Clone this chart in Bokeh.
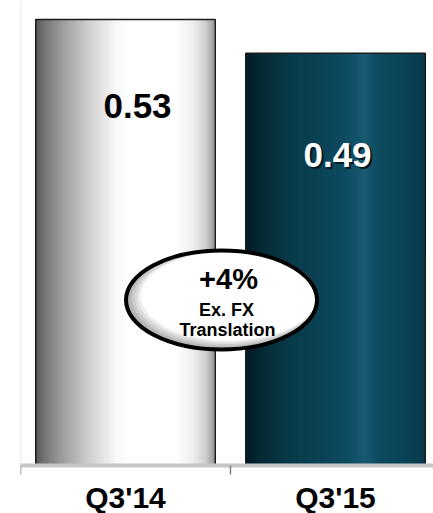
from bokeh.plotting import figure
from bokeh.models import ColumnDataSource, FixedTicker, Range1d
from bokeh.core.properties import value
from bokeh.embed import file_html
from bokeh.resources import INLINE

# ---- data ----
categories = ["Q3'14", "Q3'15"]
eps = [0.53, 0.49]
eps_labels = ["0.53", "0.49"]
callout_lines = ["+4%", "Ex. FX", "Translation"]

FONT = value("Liberation Sans")
W, H = 433, 513
PX_X = 1 / 210            # data units per pixel, horizontal
PX_Y = 0.53 / 446         # data units per pixel, vertical
Y_END = 465 * PX_Y
Y_START = -48 * PX_Y      # room below the baseline for the category labels
BAR_W = 0.855
centers = [i + 0.5 for i in range(len(categories))]

# horizontal colour ramps giving each bar its cylindrical shading
ramps = [
    [(0.00, "#555555"), (0.05, "#747474"), (0.15, "#9c9c9c"), (0.30, "#cfcfcf"),
     (0.45, "#f8f8f8"), (0.52, "#ffffff"), (0.78, "#ffffff"), (0.88, "#eeeeee"),
     (0.95, "#cdcdcd"), (1.00, "#979797")],
    [(0.00, "#031a22"), (0.10, "#062b37"), (0.25, "#093a4a"), (0.45, "#0b4457"),
     (0.58, "#0f4d63"), (0.66, "#195b73"), (0.74, "#0f4b60"), (0.90, "#0a4356"),
     (1.00, "#083a4b")],
]


def hex2rgb(h):
    h = h.lstrip("#")
    return [int(h[i:i + 2], 16) for i in (0, 2, 4)]


def ramp_color(stops, t):
    for (t0, c0), (t1, c1) in zip(stops[:-1], stops[1:]):
        if t0 <= t <= t1:
            f = 0 if t1 == t0 else (t - t0) / (t1 - t0)
            a, b = hex2rgb(c0), hex2rgb(c1)
            return "#%02x%02x%02x" % tuple(round(a[k] + (b[k] - a[k]) * f) for k in range(3))
    return stops[-1][1]


N = 120
sx, stop_, sw, sc = [], [], [], []
for c, v, stops in zip(centers, eps, ramps):
    step = BAR_W / N
    for i in range(N):
        t = (i + 0.5) / N
        sx.append(c - BAR_W / 2 + (i + 0.5) * step)
        stop_.append(v)
        sw.append(step * 1.6)
        sc.append(ramp_color(stops, t))
strips = ColumnDataSource(dict(x=sx, top=stop_, w=sw, color=sc))
bars = ColumnDataSource(dict(x=centers, top=eps))

p = figure(width=W, height=H, output_backend="svg", toolbar_location=None,
           x_range=Range1d(0, (W - 20) * PX_X), y_range=Range1d(Y_START, Y_END),
           min_border_left=20, min_border_right=0, min_border_top=0,
           min_border_bottom=0)
p.outline_line_color = None
p.xgrid.visible = False
p.ygrid.visible = False
p.background_fill_color = "white"
p.border_fill_color = "white"

# faint value axis, line only
yax = p.yaxis[0]
yax.fixed_location = 0
yax.bounds = (0, Y_END)
yax.ticker = FixedTicker(ticks=[])
yax.axis_line_color = "#e2e2e2"
yax.axis_line_width = 1.5
yax.major_tick_line_color = None
yax.minor_tick_line_color = None

p.vbar(x="x", top="top", width="w", bottom=0, source=strips,
       fill_color="color", line_color=None)
p.vbar(x="x", top="top", width=BAR_W, bottom=0, source=bars,
       fill_color=None, line_color="#1c1c1c", line_width=1.5)

# value labels inside the bars
p.text(x=[centers[0]], y=[eps[0]], text=[eps_labels[0]], x_offset=12, y_offset=86,
       text_font=FONT, text_font_style="bold", text_font_size="35px",
       text_color="black", text_align="center", text_baseline="middle")
p.text(x=[centers[1]], y=[eps[1]], text=[eps_labels[1]], x_offset=4, y_offset=104,
       text_font=FONT, text_font_style="bold", text_font_size="35px",
       text_color="#051820", text_align="center", text_baseline="middle")
p.text(x=[centers[1]], y=[eps[1]], text=[eps_labels[1]], x_offset=2, y_offset=102,
       text_font=FONT, text_font_style="bold", text_font_size="35px",
       text_color="white", text_align="center", text_baseline="middle")

# callout ellipse with soft shading toward its lower left
ex, ey = (221 - 20) * PX_X, (465 - 299.5) * PX_Y
ew, eh = 191, 99
layers = 6
for i in range(layers):
    f = i / (layers - 1)
    g = round(0xa8 + (0xff - 0xa8) * f)
    p.ellipse(x=[ex + i * 1.5 * PX_X], y=[ey + i * 0.8 * PX_Y],
              width=[(ew - i * 3) * PX_X], height=[(eh - i * 2) * PX_Y],
              fill_color="#%02x%02x%02x" % (g, g, g), line_color=None)
p.ellipse(x=[ex], y=[ey], width=[ew * PX_X], height=[eh * PX_Y],
          fill_color=None, line_color="black", line_width=4)

for txt, dx, dy, size in zip(callout_lines, [7, 5, 6], [-21, 10, 30],
                             ["29px", "18px", "18px"]):
    p.text(x=[ex], y=[ey], text=[txt], x_offset=dx, y_offset=dy,
           text_font=FONT, text_font_style="bold", text_font_size=size,
           text_color="black", text_align="center", text_baseline="middle")

# category axis on the baseline: labels centred, ticks at category boundaries
ax = p.xaxis[0]
ax.fixed_location = 0
ax.ticker = FixedTicker(ticks=centers, minor_ticks=list(range(len(categories) + 2)))
ax.major_label_overrides = {c: lab for c, lab in zip(centers, categories)}
ax.major_label_text_font = "Liberation Sans"
ax.major_label_text_font_style = "bold"
ax.major_label_text_font_size = "30px"
ax.major_label_text_color = "black"
ax.major_label_standoff = 6
ax.major_tick_out = 0
ax.major_tick_in = 0
ax.minor_tick_out = 9
ax.minor_tick_in = 0
ax.minor_tick_line_color = "#808080"
ax.minor_tick_line_width = 1.5
ax.axis_line_color = "#c6c6c6"
ax.axis_line_width = 4

open("out.html", "w").write(file_html(p, INLINE))
